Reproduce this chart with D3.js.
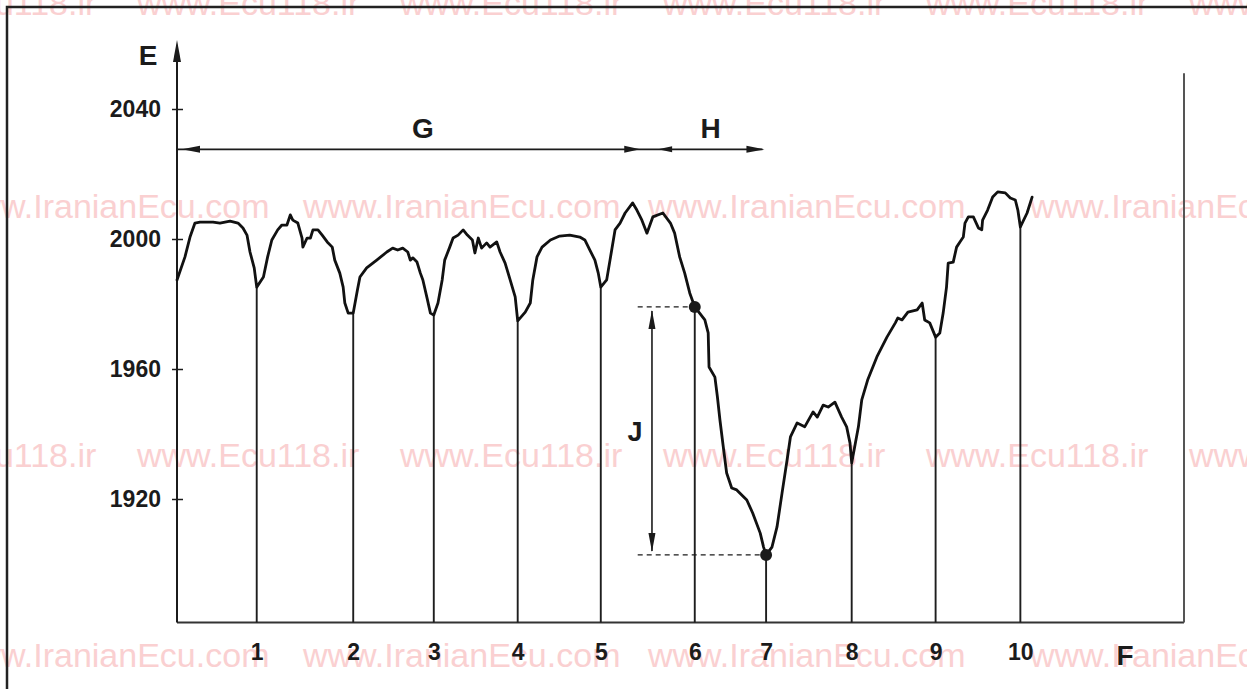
<!DOCTYPE html>
<html><head><meta charset="utf-8">
<script src="https://cdn.jsdelivr.net/npm/d3@7"></script>
<style>body{margin:0;background:#fff;} svg{display:block;}</style>
</head><body><svg id="chart" width="1247" height="689"></svg>
<script>
// ---- data ----
const yTicks = [1920, 1960, 2000, 2040];
const cylinderLabels = ["1","2","3","4","5","6","7","8","9","10"];
const cylinderT = [0.95, 2.10, 3.06, 4.06, 5.05, 6.17, 7.02, 8.04, 9.04, 10.05];
const cylinderRpm = [1985.2, 1977.2, 1976.6, 1974.8, 1985.2, 1979.1, 1902.8, 1931.1, 1969.8, 2003.7];
const traceT = [
 0,0.095,0.155,0.214,0.274,0.429,0.512,0.632,0.727,0.786,0.834,0.870,0.92,0.95,
 1.03,1.08,1.13,1.20,1.25,1.31,1.35,1.38,1.44,1.49,1.50,1.55,1.59,1.62,1.68,1.73,1.79,1.85,1.88,1.94,1.98,2.00,2.04,2.10,
 2.15,2.18,2.26,2.38,2.50,2.57,2.63,2.69,2.75,2.78,2.81,2.86,2.90,2.93,2.98,3.02,3.06,
 3.11,3.16,3.19,3.25,3.29,3.35,3.41,3.46,3.52,3.55,3.59,3.63,3.69,3.73,3.81,3.85,3.91,3.97,4.03,4.06,
 4.15,4.21,4.24,4.29,4.35,4.45,4.56,4.68,4.80,4.86,4.92,4.98,5.02,5.05,
 5.12,5.16,5.22,5.28,5.34,5.43,5.48,5.54,5.60,5.67,5.79,5.88,5.93,5.99,6.05,6.11,6.17,
 6.29,6.33,6.34,6.41,6.44,6.47,6.51,6.55,6.61,6.67,6.79,6.86,6.95,6.99,7.02,
 7.09,7.15,7.21,7.27,7.31,7.39,7.48,7.58,7.63,7.70,7.76,7.84,7.92,7.98,8.02,8.04,
 8.12,8.16,8.23,8.34,8.46,8.56,8.59,8.64,8.71,8.82,8.88,8.91,8.97,9.04,
 9.09,9.13,9.17,9.19,9.25,9.29,9.33,9.37,9.39,9.43,9.49,9.55,9.59,9.60,9.66,9.72,9.78,9.87,9.93,9.99,10.02,10.05,10.13,10.19
];
const traceRpm = [
 1987.4,1994.5,2000.6,2004.9,2005.2,2005.2,2004.9,2005.5,2004.9,2003.4,2001.2,1996.0,1991.1,1985.2,
 1988.3,1994.5,1999.7,2002.8,2004.3,2004.3,2007.4,2005.8,2004.9,2000.3,1997.5,2000.3,2000.3,2002.8,2002.8,2001.2,1999.1,1997.5,1993.5,1989.5,1985.2,1980.3,1977.2,1977.2,
 1984.3,1988.3,1991.1,1993.5,1996.0,1997.2,1996.6,1997.2,1996.0,1993.5,1994.2,1992.9,1989.5,1987.4,1981.8,1977.2,1976.6,
 1980.3,1987.4,1993.5,1997.5,2000.3,2001.2,2002.8,2001.2,1999.7,1995.7,2000.3,1997.2,1998.8,1997.5,1999.1,1996.0,1992.6,1987.4,1982.2,1974.8,
 1977.5,1980.3,1987.4,1994.5,1997.5,1999.7,2000.9,2001.2,2000.6,1999.7,1996.6,1993.5,1989.5,1985.2,
 1987.4,1993.5,2002.8,2004.9,2008.0,2011.1,2008.9,2005.8,2001.8,2006.8,2008.0,2004.9,2001.8,1994.5,1989.5,1983.4,1979.1,
 1975.1,1971.1,1960.6,1957.5,1951.4,1944.3,1936.0,1928.0,1923.4,1922.8,1919.7,1915.7,1909.5,1905.2,1902.8,
 1905.2,1911.4,1921.8,1932.0,1939.1,1943.4,1942.2,1946.8,1945.2,1948.9,1948.3,1949.8,1945.2,1942.2,1937.2,1931.1,
 1942.2,1950.5,1956.6,1963.7,1969.8,1974.2,1975.7,1975.1,1977.5,1978.2,1980.3,1975.1,1974.2,1969.8,
 1971.1,1977.2,1985.2,1992.6,1992.9,1997.5,1999.1,2000.6,2004.9,2006.8,2006.8,2003.4,2002.8,2005.8,2008.9,2012.9,2014.5,2014.2,2012.6,2012.0,2008.9,2003.7,2008.0,2012.9
];
const spanLabels = ["G", "H"];
const spanStartT = [0, 5.90];
const spanEndT = [5.52, 7.00];
const spanRpm = 2027.6;
const jLabel = "J";
const axisLabelY = "E";
const axisLabelX = "F";
const watermarkA = "www.Ecu118.ir";
const watermarkB = "www.IranianEcu.com";

// ---- layout ----
const svg = d3.select("#chart");
const W = 1247, H = 689;
const x = d3.scaleLinear().domain([0, 12]).range([177, 1184]);
const y = d3.scaleLinear().domain([1882, 2062]).range([622.5, 37.5]);
const font = "'Liberation Sans', Arial, Helvetica, sans-serif";
const ink = "#1b1b1b";

// watermarks (behind)
const wm = svg.append("g").attr("font-family", font).attr("font-size", 34).attr("fill", "#fad0d1");
const wmRowsA = [15, 467], wmXA = [-126, 137, 400, 663, 926, 1189];
const wmRowsB = [218, 667], wmXB = [-48, 303, 648, 1030];
wmRowsA.forEach(yy => wmXA.forEach(xx => wm.append("text").attr("x", xx).attr("y", yy).text(watermarkA)));
wmRowsB.forEach(yy => wmXB.forEach(xx => wm.append("text").attr("x", xx).attr("y", yy).text(watermarkB)));

// frame
svg.append("rect").attr("x", 7).attr("y", 7).attr("width", W + 20).attr("height", H + 20)
  .attr("fill", "none").attr("stroke", "#222").attr("stroke-width", 2.5);

// baseline + right line
svg.append("line").attr("x1", x(0)).attr("x2", x(12)).attr("y1", y(1882)).attr("y2", y(1882))
  .attr("stroke", "#333").attr("stroke-width", 2);
svg.append("line").attr("x1", x(12)).attr("x2", x(12)).attr("y1", y(1882)).attr("y2", y(2051))
  .attr("stroke", "#555").attr("stroke-width", 2);

// y axis line with arrow
svg.append("line").attr("x1", x(0)).attr("x2", x(0)).attr("y1", y(1882)).attr("y2", y(2056))
  .attr("stroke", ink).attr("stroke-width", 2);
svg.append("path").attr("d", `M${x(0)},${y(2061.2)} L${x(0)-4},${y(2054.5)} L${x(0)+4},${y(2054.5)} Z`).attr("fill", ink);

const yAxis = d3.axisLeft(y).tickValues(yTicks).tickSize(5).tickPadding(11).tickFormat(d3.format("d"));
const gy = svg.append("g").attr("transform", `translate(${x(0)},0)`).call(yAxis);
gy.select(".domain").remove();
gy.selectAll(".tick line").attr("x1", -5).attr("x2", 6).attr("stroke", ink).attr("stroke-width", 1.5);
gy.selectAll(".tick text").attr("font-family", font).attr("font-size", 23).attr("font-weight", "bold").attr("fill", ink);

// x axis labels
const xAxis = d3.axisBottom(x).tickValues(cylinderT).tickSize(0).tickPadding(21)
  .tickFormat((d, i) => cylinderLabels[i]);
const gx = svg.append("g").attr("transform", `translate(0,${y(1882)})`).call(xAxis);
gx.select(".domain").remove();
gx.selectAll(".tick text").attr("font-family", font).attr("font-size", 23).attr("font-weight", "bold").attr("fill", ink);

// axis titles
svg.append("text").attr("x", 148).attr("y", 65).attr("text-anchor", "middle")
  .attr("font-family", font).attr("font-size", 28).attr("font-weight", "bold").attr("fill", ink).text(axisLabelY);
svg.append("text").attr("x", 1125).attr("y", 665).attr("text-anchor", "middle")
  .attr("font-family", font).attr("font-size", 28).attr("font-weight", "bold").attr("fill", ink).text(axisLabelX);

// cylinder vertical lines
svg.append("g").selectAll("line").data(cylinderT).join("line")
  .attr("x1", d => x(d)).attr("x2", d => x(d))
  .attr("y1", (d, i) => y(cylinderRpm[i])).attr("y2", y(1882))
  .attr("stroke", "#1e1e1e").attr("stroke-width", 1.9);

// trace
const pts = traceT.map((t, i) => [t, traceRpm[i]]);
svg.append("path").datum(pts)
  .attr("d", d3.line().x(d => x(d[0])).y(d => y(d[1])))
  .attr("fill", "none").attr("stroke", "#111").attr("stroke-width", 2.8)
  .attr("stroke-linejoin", "round").attr("stroke-linecap", "round");

// G / H span arrows
const yS = y(spanRpm);
svg.append("line").attr("x1", x(spanStartT[0])).attr("x2", x(spanEndT[1]) - 2).attr("y1", yS).attr("y2", yS)
  .attr("stroke", ink).attr("stroke-width", 1.8);
function arrowH(xt, dir, len, half) { // dir: -1 left, +1 right; xt = tip
  svg.append("path").attr("d", `M${xt},${yS} L${xt - dir*len},${yS-half} L${xt - dir*len},${yS+half} Z`).attr("fill", ink);
}
arrowH(x(spanStartT[0]) + 5, -1, 18, 3.5);
arrowH(x(spanEndT[0]), 1, 16, 3.5);
arrowH(x(spanStartT[1]) - 14, -1, 14, 3);
arrowH(x(spanEndT[1]), 1, 18, 3.5);
spanLabels.forEach((s, i) => {
  const cx = i === 0 ? x(2.93) : x(6.36);
  svg.append("text").attr("x", cx).attr("y", yS - 11).attr("text-anchor", "middle")
    .attr("font-family", font).attr("font-size", 28).attr("font-weight", "bold").attr("fill", ink).text(s);
});

// J annotation
const jTop = cylinderRpm[5], jBot = cylinderRpm[6];
const dashStart = x(5.49);
svg.append("line").attr("x1", dashStart).attr("x2", x(cylinderT[5])).attr("y1", y(jTop)).attr("y2", y(jTop))
  .attr("stroke", ink).attr("stroke-width", 1.3).attr("stroke-dasharray", "5,4");
svg.append("line").attr("x1", dashStart).attr("x2", x(cylinderT[6])).attr("y1", y(jBot)).attr("y2", y(jBot))
  .attr("stroke", ink).attr("stroke-width", 1.3).attr("stroke-dasharray", "5,4");
const xj = x(5.66);
svg.append("line").attr("x1", xj).attr("x2", xj).attr("y1", y(jTop) + 4).attr("y2", y(jBot) - 4)
  .attr("stroke", ink).attr("stroke-width", 1.6);
svg.append("path").attr("d", `M${xj},${y(jTop)+3} L${xj-3.5},${y(jTop)+22} L${xj+3.5},${y(jTop)+22} Z`).attr("fill", ink);
svg.append("path").attr("d", `M${xj},${y(jBot)-3} L${xj-3.5},${y(jBot)-22} L${xj+3.5},${y(jBot)-22} Z`).attr("fill", ink);
svg.append("text").attr("x", xj - 17).attr("y", (y(jTop) + y(jBot)) / 2 + 10).attr("text-anchor", "middle")
  .attr("font-family", font).attr("font-size", 27).attr("font-weight", "bold").attr("fill", ink).text(jLabel);
svg.append("circle").attr("cx", x(cylinderT[5])).attr("cy", y(jTop)).attr("r", 6).attr("fill", ink);
svg.append("circle").attr("cx", x(cylinderT[6])).attr("cy", y(jBot)).attr("r", 6).attr("fill", ink);
</script></body></html>
